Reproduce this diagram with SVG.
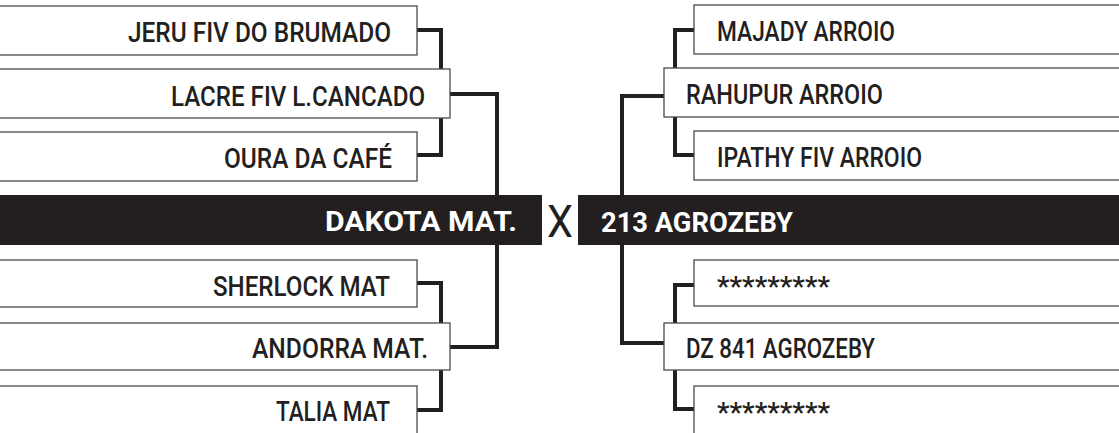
<svg xmlns="http://www.w3.org/2000/svg" width="1119" height="433" viewBox="0 0 1119 433">
<style>
.box{fill:#fff;stroke:#4a4a4a;stroke-width:1.3}
.t{font-family:Roboto,"Liberation Sans",sans-serif;font-size:27px;font-weight:500;fill:#231f20}
.r{text-anchor:end}
.bar{fill:#231f20}
.bt{font-family:Roboto,"Liberation Sans",sans-serif;font-size:28px;font-weight:bold;fill:#fff}
.c{fill:none;stroke:#231f20;stroke-width:4;stroke-linejoin:miter}
</style>
<rect width="1119" height="433" fill="#fff"/>
<g id="connectors">
<path class="c" d="M417,30 H441 V155 H417"/>
<path class="c" d="M450,94 H497 V347 H450"/>
<path class="c" d="M417,283 H441 V410 H417"/>
<path class="c" d="M694,30 H675 V155 H694"/>
<path class="c" d="M664,96 H622 V343 H664"/>
<path class="c" d="M694,285 H675 V409 H694"/>
</g>
<g id="n-jeru"><rect class="box" x="-2" y="6" width="419" height="49"/><text class="t r" x="391" y="42" textLength="263" lengthAdjust="spacingAndGlyphs">JERU FIV DO BRUMADO</text></g>
<g id="n-lacre"><rect class="box" x="-2" y="69" width="452" height="49"/><text class="t r" x="425" y="106" textLength="254" lengthAdjust="spacingAndGlyphs">LACRE FIV L.CANCADO</text></g>
<g id="n-oura"><rect class="box" x="-2" y="132" width="419" height="49"/><text class="t r" x="392" y="168" textLength="168" lengthAdjust="spacingAndGlyphs">OURA DA CAFÉ</text></g>
<g id="n-sherlock"><rect class="box" x="-2" y="260" width="419" height="47"/><text class="t r" x="390" y="296" textLength="177" lengthAdjust="spacingAndGlyphs">SHERLOCK MAT</text></g>
<g id="n-andorra"><rect class="box" x="-2" y="323" width="452" height="47"/><text class="t r" x="428" y="358" textLength="176" lengthAdjust="spacingAndGlyphs">ANDORRA MAT.</text></g>
<g id="n-talia"><rect class="box" x="-2" y="386" width="419" height="60"/><text class="t r" x="390" y="421" textLength="114" lengthAdjust="spacingAndGlyphs">TALIA MAT</text></g>
<g id="n-dakota"><rect class="bar" x="0" y="195" width="542" height="50"/><text class="bt r" x="517" y="231" textLength="192" lengthAdjust="spacingAndGlyphs">DAKOTA MAT.</text></g>
<g id="n-x"><text x="560" y="237" text-anchor="middle" style="font-family:Roboto,'Liberation Sans',sans-serif;font-size:44px;fill:#231f20" textLength="26" lengthAdjust="spacingAndGlyphs">X</text></g>
<g id="n-213"><rect class="bar" x="578" y="195" width="545" height="50"/><text class="bt" x="601" y="232" textLength="192" lengthAdjust="spacingAndGlyphs">213 AGROZEBY</text></g>
<g id="n-majady"><rect class="box" x="694" y="5" width="430" height="49"/><text class="t" x="717" y="41" textLength="178" lengthAdjust="spacingAndGlyphs">MAJADY ARROIO</text></g>
<g id="n-rahupur"><rect class="box" x="664" y="68" width="460" height="49"/><text class="t" x="686" y="104" textLength="197" lengthAdjust="spacingAndGlyphs">RAHUPUR ARROIO</text></g>
<g id="n-ipathy"><rect class="box" x="694" y="131" width="430" height="49"/><text class="t" x="717" y="167" textLength="205" lengthAdjust="spacingAndGlyphs">IPATHY FIV ARROIO</text></g>
<g id="n-star1"><rect class="box" x="694" y="260" width="430" height="46"/><text class="t" x="717" y="296" textLength="113" lengthAdjust="spacingAndGlyphs">*********</text></g>
<g id="n-dz841"><rect class="box" x="664" y="323" width="460" height="47"/><text class="t" x="686" y="358" textLength="189" lengthAdjust="spacingAndGlyphs">DZ 841 AGROZEBY</text></g>
<g id="n-star2"><rect class="box" x="694" y="386" width="430" height="60"/><text class="t" x="717" y="422" textLength="113" lengthAdjust="spacingAndGlyphs">*********</text></g>
</svg>
